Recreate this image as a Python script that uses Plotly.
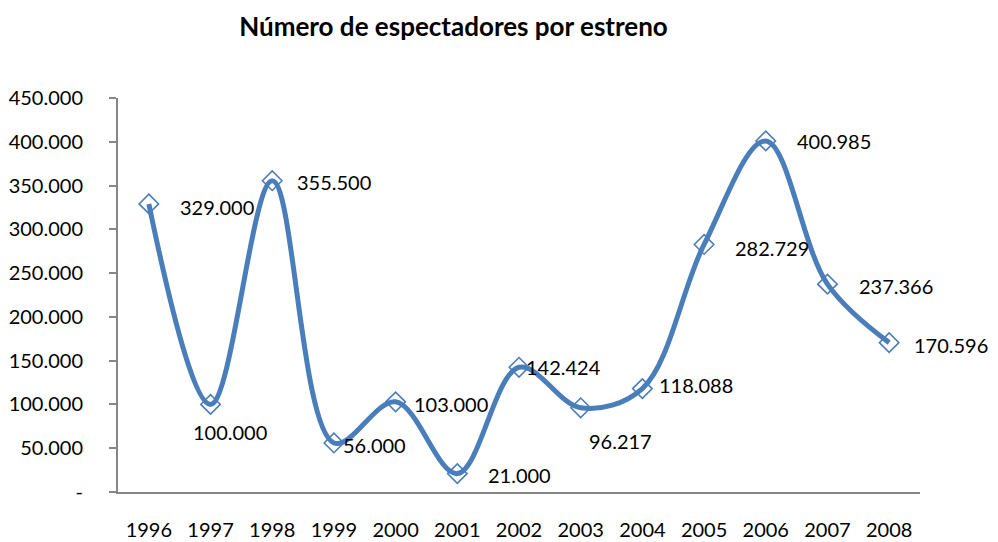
import plotly.graph_objects as go

# Datos
anios = ['1996', '1997', '1998', '1999', '2000', '2001', '2002',
         '2003', '2004', '2005', '2006', '2007', '2008']
espectadores = [329000, 100000, 355500, 56000, 103000, 21000, 142424,
                96217, 118088, 282729, 400985, 237366, 170596]
y_ticks = [0, 50000, 100000, 150000, 200000, 250000, 300000, 350000, 400000, 450000]


def fmt_miles(v):
    # separador de miles con punto
    return f"{v:,}".replace(",", ".")


y_ticktext = ['-' if v == 0 else fmt_miles(v) for v in y_ticks]

# desplazamiento (px) de cada etiqueta respecto a su punto
label_shift = [(68, -3), (19, -28), (62, -1), (41, -2), (55, -2), (62, -1), (44, 0),
               (40, -33), (54, 4), (68, -4), (68, 0), (69, -2), (62, -2)]

azul = '#4A7EBB'
gris = '#868686'
fuente = 'Lato'

fig = go.Figure()
fig.add_trace(go.Scatter(
    x=anios, y=espectadores,
    mode='lines+markers',
    line=dict(color=azul, width=5, shape='spline', smoothing=1),
    marker=dict(symbol='diamond-open', size=15, color=azul, line=dict(width=1.6, color=azul)),
    showlegend=False,
    hoverinfo='x+y',
))

# etiquetas de datos (x como indice de categoria)
for i, v in enumerate(espectadores):
    dx, dy = label_shift[i]
    fig.add_annotation(x=i, y=v, text=fmt_miles(v), showarrow=False,
                       xshift=dx, yshift=dy, font=dict(family=fuente, size=20, color='#000000'))

# la pagina deja 8px de margen en el body: figura un poco mas pequena
fig.update_layout(
    width=990, height=534,
    paper_bgcolor='white', plot_bgcolor='white',
    margin=dict(l=110, r=78, t=90, b=50),
    font=dict(family=fuente, size=20, color='#000000'),
    title=dict(text='<b>Número de espectadores por estreno</b>', x=0.45, xanchor='center',
               y=0.964, yanchor='middle', font=dict(family=fuente, size=26, color='#000000')),
)
fig.update_xaxes(type='category', range=[-0.5, 12.5], showline=True, linecolor=gris, linewidth=2,
                 showgrid=False, zeroline=False, ticks='', ticklabelstandoff=19, automargin=False,
                 tickfont=dict(family=fuente, size=20))
fig.update_yaxes(range=[0, 450000], tickvals=y_ticks, ticktext=y_ticktext, showline=True,
                 linecolor=gris, linewidth=2, showgrid=False, zeroline=False,
                 ticks='outside', ticklen=7, tickwidth=2, tickcolor=gris,
                 ticklabelstandoff=22, automargin=False,
                 tickfont=dict(family=fuente, size=20))

fig.write_html("out.html")
